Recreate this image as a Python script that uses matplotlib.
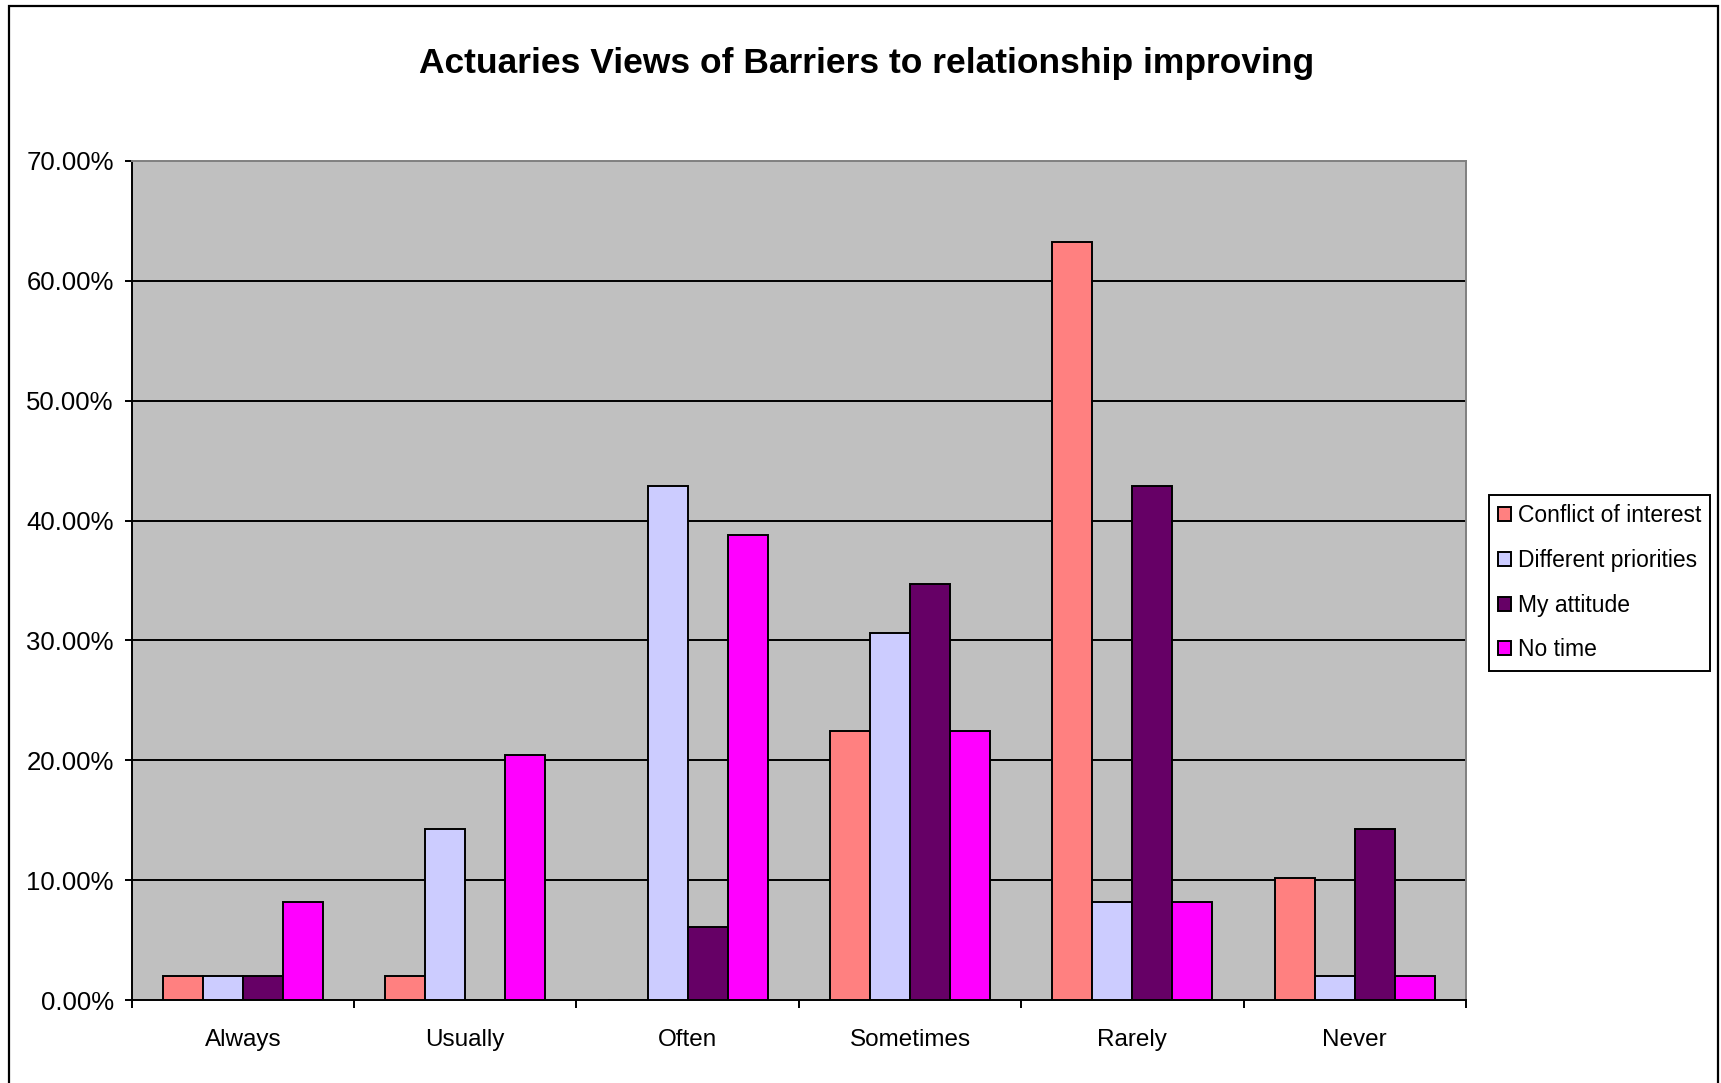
import matplotlib.pyplot as plt
from matplotlib.patches import Rectangle
from matplotlib.ticker import FixedLocator, FuncFormatter
import numpy as np

plt.rcParams['font.family'] = ['Liberation Sans', 'DejaVu Sans']

categories = ["Always", "Usually", "Often", "Sometimes", "Rarely", "Never"]
series_names = ["Conflict of interest", "Different priorities", "My attitude", "No time"]
conflict = [2.04, 2.04, 0.00, 22.45, 63.27, 10.20]
priorities = [2.04, 14.29, 42.86, 30.61, 8.16, 2.04]
attitude = [2.04, 0.00, 6.12, 34.69, 42.86, 14.29]
no_time = [8.16, 20.41, 38.78, 22.45, 8.16, 2.04]
colors = ["#FF8080", "#CCCCFF", "#660066", "#FF00FF"]

W, H = 1721, 1083
fig = plt.figure(figsize=(W / 100, H / 100), dpi=100)

# outer chart frame
fig.patches.append(Rectangle((9 / W, -0.05), (1718 - 9) / W, 1.05 - 6 / H,
                             transform=fig.transFigure, fill=False,
                             edgecolor="black", linewidth=1.6, zorder=0))

left, right, top, bottom = 131.7, 1466, 161, 1000
ax = fig.add_axes([left / W, 1 - bottom / H, (right - left) / W, (bottom - top) / H])
ax.set_facecolor("#C0C0C0")

x = np.arange(len(categories))
bw = 0.18
for i, (vals, name, c) in enumerate(zip([conflict, priorities, attitude, no_time], series_names, colors)):
    ax.bar(x + (i - 1.5) * bw, vals, bw, color=c, edgecolor="black", linewidth=1.4,
           label=name, zorder=3)

ax.set_xlim(-0.5, len(categories) - 0.5)
ax.set_ylim(0, 70)
ax.yaxis.set_major_locator(FixedLocator(np.arange(0, 71, 10)))
ax.yaxis.set_major_formatter(FuncFormatter(lambda v, p: f"{v:.2f}%"))
for yv in range(10, 70, 10):
    ax.axhline(yv, color="black", linewidth=1.4, zorder=1)

ax.set_xticks(x)
ax.set_xticklabels(categories)
ax.set_xticks(np.arange(-0.5, len(categories)), minor=True)
ax.tick_params(axis="x", which="major", length=0, pad=21, labelsize=17.5)
ax.tick_params(axis="x", which="minor", length=6, width=1.4, color="black")
ax.tick_params(axis="y", length=5, width=1.4, pad=8, labelsize=18.5)

for s in ("top", "right"):
    ax.spines[s].set_color("#808080")
    ax.spines[s].set_linewidth(1.4)
for s in ("left", "bottom"):
    ax.spines[s].set_color("black")
    ax.spines[s].set_linewidth(1.4)

fig.text(867 / W, 1 - 64 / H, "Actuaries Views of Barriers to relationship improving",
         ha="center", va="center", fontsize=25.5, fontweight="bold")

leg = ax.legend(loc="upper left", bbox_to_anchor=(1489 / W, 1 - 495 / H),
                bbox_transform=fig.transFigure, borderaxespad=0, fontsize=16.5,
                handlelength=0.55, handleheight=0.55, handletextpad=0.3,
                labelspacing=0.95, borderpad=0.4, fancybox=False, framealpha=1)
leg.get_frame().set_edgecolor("black")
leg.get_frame().set_linewidth(1.4)

fig.savefig("out.png", dpi=100)
